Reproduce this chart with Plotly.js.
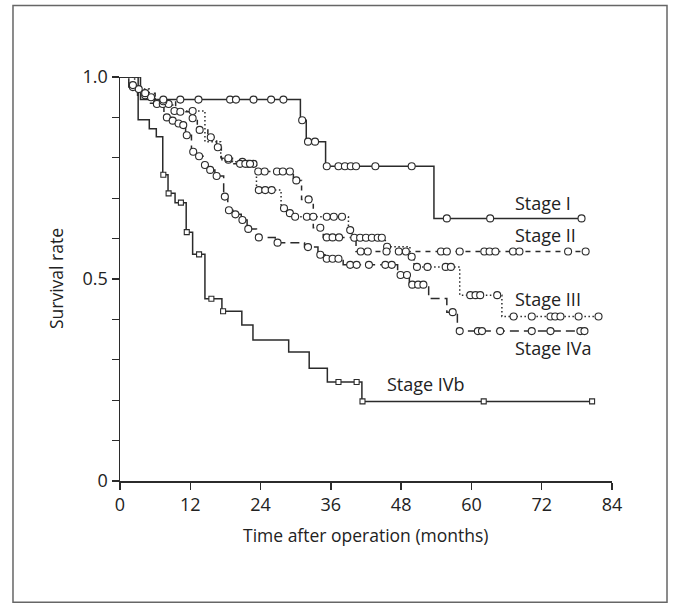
<!DOCTYPE html>
<html>
<head>
<meta charset="utf-8">
<script src="https://cdn.plot.ly/plotly-3.0.1.min.js"></script>
<style>
html,body{margin:0;padding:0;background:#fff;}
#chart{width:676px;height:605px;}
</style>
</head>
<body>
<div id="chart"></div>
<script>
// ---------- data (months, survival rate) ----------
const xTicks = [0, 12, 24, 36, 48, 60, 72, 84];
const yTicks = [0, 0.1, 0.2, 0.3, 0.4, 0.5, 0.6, 0.7, 0.8, 0.9, 1.0];
const yTickText = ['0', '', '', '', '', '0.5', '', '', '', '', '1.0'];
const stageNames = ['Stage I', 'Stage II', 'Stage III', 'Stage IVa', 'Stage IVb'];
const xTitle = 'Time after operation (months)';
const yTitle = 'Survival rate';

// Stage I
const s1Time = [0, 3.5, 30.8, 31.8, 35.1, 53.6, 78.8];
const s1Surv = [1.0, 0.944, 0.893, 0.840, 0.779, 0.650, 0.650];
const s1CensT = [7.4, 10.3, 13.4, 18.8, 19.8, 22.8, 25.8, 27.9, 31.1, 32.1, 33.3, 35.3, 37.3, 38.4, 39.4, 40.3, 43.6, 49.8, 55.8, 63.2, 78.8];
const s1CensS = [0.944, 0.944, 0.944, 0.944, 0.944, 0.944, 0.944, 0.944, 0.893, 0.840, 0.840, 0.779, 0.779, 0.779, 0.779, 0.779, 0.779, 0.779, 0.650, 0.650, 0.650];

// Stage II
const s2Time = [0, 1.5, 3.5, 6.0, 9.5, 12.0, 13.2, 15.0, 16.5, 17.3, 19.2, 23.2, 29.6, 31.0, 33.0, 34.7, 40.3, 79.5];
const s2Surv = [1.0, 0.980, 0.960, 0.940, 0.914, 0.898, 0.869, 0.851, 0.826, 0.799, 0.785, 0.766, 0.744, 0.697, 0.627, 0.603, 0.568, 0.568];
const s2CensT = [2.2, 4.3, 7.4, 10.3, 12.4, 13.6, 15.5, 16.7, 18.5, 20.5, 21.4, 22.2, 23.6, 24.7, 26.8, 27.8, 29.0, 30.1, 32.2, 34.2, 35.3, 36.3, 37.4, 41.1, 42.3, 45.5, 47.6, 48.8, 54.8, 55.8, 58.0, 62.2, 63.1, 64.1, 67.1, 68.2, 76.5, 79.5];
const s2CensS = [0.980, 0.960, 0.940, 0.914, 0.898, 0.869, 0.851, 0.826, 0.799, 0.785, 0.785, 0.785, 0.766, 0.766, 0.766, 0.766, 0.766, 0.744, 0.697, 0.627, 0.603, 0.603, 0.603, 0.568, 0.568, 0.568, 0.568, 0.568, 0.568, 0.568, 0.568, 0.568, 0.568, 0.568, 0.568, 0.568, 0.568, 0.568];

// Stage III
const s3Time = [0, 2.5, 5.0, 6.0, 9.0, 14.5, 17.2, 19.2, 20.5, 23.3, 27.5, 28.5, 29.5, 39.0, 39.6, 45.3, 49.5, 50.2, 58.0, 65.2, 81.7];
const s3Surv = [1.0, 0.970, 0.950, 0.933, 0.916, 0.840, 0.795, 0.790, 0.785, 0.720, 0.675, 0.663, 0.654, 0.621, 0.602, 0.580, 0.555, 0.530, 0.460, 0.407, 0.407];
const s3CensT = [3.2, 5.3, 6.3, 7.3, 8.3, 9.3, 12.4, 18.5, 20.9, 21.9, 22.8, 23.7, 24.8, 25.9, 28.0, 29.0, 29.9, 31.9, 33.0, 35.3, 36.5, 37.9, 39.3, 40.0, 41.0, 42.0, 43.0, 44.0, 44.7, 45.6, 49.8, 50.7, 52.5, 55.6, 56.5, 59.8, 60.7, 61.5, 64.4, 67.2, 70.3, 73.5, 74.3, 75.2, 78.3, 81.7];
const s3CensS = [0.970, 0.950, 0.933, 0.933, 0.933, 0.916, 0.916, 0.795, 0.790, 0.785, 0.785, 0.720, 0.720, 0.720, 0.675, 0.663, 0.654, 0.654, 0.654, 0.654, 0.654, 0.654, 0.621, 0.602, 0.602, 0.602, 0.602, 0.602, 0.602, 0.580, 0.555, 0.530, 0.530, 0.530, 0.530, 0.460, 0.460, 0.460, 0.460, 0.407, 0.407, 0.407, 0.407, 0.407, 0.407, 0.407];

// Stage IVa
const s4aTime = [0, 1.5, 3.0, 5.0, 7.5, 8.8, 9.8, 10.5, 11.2, 12.2, 13.2, 14.2, 15.2, 16.2, 17.7, 18.4, 19.5, 20.7, 21.7, 23.3, 26.5, 31.5, 33.8, 35.0, 38.1, 47.4, 49.4, 52.7, 55.8, 57.6, 79.3];
const s4aSurv = [1.0, 0.975, 0.955, 0.935, 0.900, 0.892, 0.885, 0.881, 0.856, 0.815, 0.804, 0.782, 0.770, 0.755, 0.704, 0.670, 0.660, 0.646, 0.624, 0.603, 0.590, 0.579, 0.560, 0.550, 0.535, 0.510, 0.486, 0.452, 0.418, 0.371, 0.371];
const s4aCensT = [2.2, 4.3, 6.3, 8.0, 9.0, 10.0, 10.8, 11.4, 12.5, 13.5, 14.5, 15.4, 16.5, 17.9, 18.6, 19.7, 20.9, 21.9, 23.7, 26.9, 32.1, 34.2, 35.3, 36.3, 37.3, 39.3, 40.4, 42.5, 45.3, 46.4, 47.9, 49.0, 49.9, 50.9, 51.8, 56.8, 58.0, 61.1, 61.8, 64.9, 70.3, 73.5, 78.6, 79.3];
const s4aCensS = [0.975, 0.955, 0.935, 0.900, 0.892, 0.885, 0.881, 0.856, 0.815, 0.804, 0.782, 0.770, 0.755, 0.704, 0.670, 0.660, 0.646, 0.624, 0.603, 0.590, 0.579, 0.560, 0.550, 0.550, 0.550, 0.535, 0.535, 0.535, 0.535, 0.535, 0.510, 0.510, 0.486, 0.486, 0.486, 0.418, 0.371, 0.371, 0.371, 0.371, 0.371, 0.371, 0.371, 0.371];

// Stage IVb
const s4bTime = [0, 3.1, 5.0, 6.2, 7.3, 8.2, 9.4, 11.3, 12.4, 14.5, 17.4, 20.8, 22.7, 28.8, 32.3, 35.4, 41.3, 80.6];
const s4bSurv = [1.0, 0.894, 0.872, 0.852, 0.758, 0.712, 0.689, 0.616, 0.561, 0.451, 0.420, 0.386, 0.349, 0.319, 0.279, 0.245, 0.197, 0.197];
const s4bCensT = [7.4, 8.3, 10.4, 11.4, 13.5, 15.6, 17.6, 37.3, 40.4, 41.4, 62.1, 80.6];
const s4bCensS = [0.758, 0.712, 0.689, 0.616, 0.561, 0.451, 0.420, 0.245, 0.245, 0.197, 0.197, 0.197];

// label anchor positions (months, survival)
const labelT = [67.1, 67.1, 67.1, 67.1, 45.3];
const labelS = [0.687, 0.609, 0.450, 0.328, 0.241];

// ---------- drawing ----------
const INK = '#2b2b2b';
const FONT = 'Open Sans, Noto Sans, DejaVu Sans, sans-serif';

function curve(t, s, dash) {
  return {x: t, y: s, type: 'scatter', mode: 'lines', cliponaxis: false,
    line: {shape: 'hv', color: INK, width: 1.5, dash: dash}, hoverinfo: 'skip', showlegend: false};
}
function marks(t, s, sym, size) {
  return {x: t, y: s, type: 'scatter', mode: 'markers', cliponaxis: false,
    marker: {symbol: sym, size: size, color: '#ffffff', line: {color: INK, width: 1.1}},
    hoverinfo: 'skip', showlegend: false};
}

const data = [
  curve(s4bTime, s4bSurv, 'solid'),
  curve(s4aTime, s4aSurv, '9px,5px'),
  curve(s3Time, s3Surv, '1.5px,2.5px'),
  curve(s2Time, s2Surv, '5px,5px'),
  curve(s1Time, s1Surv, 'solid'),
  marks(s4bCensT, s4bCensS, 'square', 5),
  marks(s4aCensT, s4aCensS, 'circle', 7),
  marks(s3CensT, s3CensS, 'circle', 7),
  marks(s2CensT, s2CensS, 'circle', 7),
  marks(s1CensT, s1CensS, 'circle', 7)
];

const annotations = stageNames.map((name, i) => ({
  x: labelT[i], y: labelS[i], xref: 'x', yref: 'y', text: name, showarrow: false,
  xanchor: 'left', yanchor: 'middle', font: {family: FONT, size: 18, color: '#222'}
}));
annotations.push({
  x: 0.5, y: -0.1337, xref: 'paper', yref: 'paper', text: xTitle, showarrow: false,
  xanchor: 'center', yanchor: 'middle', font: {family: FONT, size: 17.5, color: '#222'}
});
annotations.push({
  x: -0.130, y: 0.5, xref: 'paper', yref: 'paper', text: yTitle, showarrow: false, textangle: -90,
  xanchor: 'center', yanchor: 'middle', font: {family: FONT, size: 17.5, color: '#222'}
});

const layout = {
  width: 676, height: 605,
  margin: {l: 120, r: 64, t: 77, b: 124},
  paper_bgcolor: '#ffffff', plot_bgcolor: '#ffffff',
  font: {family: FONT, size: 18, color: '#222'},
  showlegend: false,
  xaxis: {
    range: [0, 84], tickvals: xTicks, ticktext: xTicks.map(String),
    showline: true, linecolor: INK, linewidth: 1.5, mirror: false,
    ticks: 'outside', ticklen: 7, tickwidth: 1.3, tickcolor: INK,
    showgrid: false, zeroline: false, fixedrange: true, automargin: false,
    tickfont: {family: FONT, size: 18, color: '#222'}
  },
  yaxis: {
    range: [0, 1], tickvals: yTicks, ticktext: yTickText,
    showline: true, linecolor: INK, linewidth: 1.5,
    ticks: 'outside', ticklen: 7, tickwidth: 1.3, tickcolor: INK,
    showgrid: false, zeroline: false, fixedrange: true, automargin: false,
    tickfont: {family: FONT, size: 18, color: '#222'}
  },
  annotations: annotations,
  shapes: [{
    type: 'rect', xref: 'paper', yref: 'paper',
    x0: -0.2175, x1: 1.1118, y0: -0.300, y1: 1.177,
    line: {color: '#666666', width: 1.5}, fillcolor: 'rgba(0,0,0,0)', layer: 'below'
  }]
};

Plotly.newPlot('chart', data, layout, {staticPlot: true, displayModeBar: false});
</script>
</body>
</html>
